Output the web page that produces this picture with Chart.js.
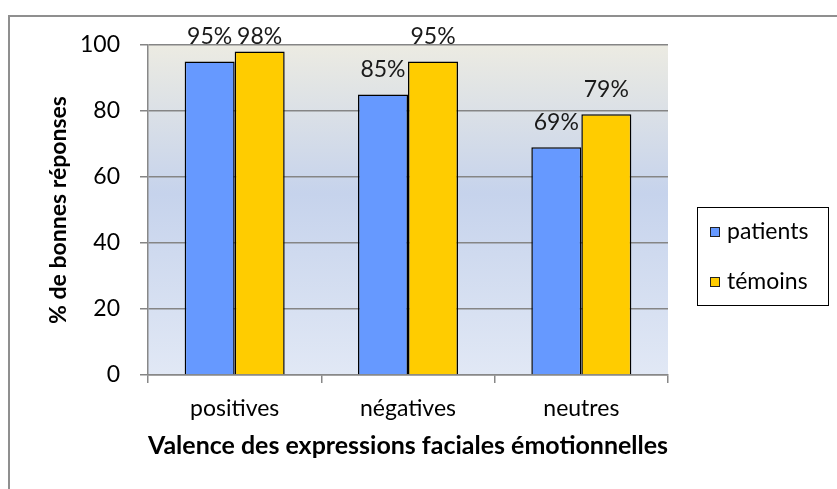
<!DOCTYPE html>
<html>
<head>
<meta charset="utf-8">
<script src="https://cdn.jsdelivr.net/npm/chart.js@4/dist/chart.umd.min.js"></script>
<style>
  body { margin: 0; background: #fff; }
  #wrap { width: 837px; height: 489px; position: relative; }
</style>
</head>
<body>
<div id="wrap"><canvas id="valenceChart"></canvas></div>
<script>
// categories et valeurs
const categories = ["positives", "négatives", "neutres"];
const patients = [95, 85, 69];
const temoins = [98, 95, 79];
const seriesNames = ["patients", "témoins"];
const yTicks = [0, 20, 40, 60, 80, 100];

const FONT = "Lato, 'Noto Sans', sans-serif";

// fond dégradé de la zone de tracé + cadre extérieur
const backgroundPlugin = {
    id: 'background',
    beforeDraw(chart) {
        const ctx = chart.ctx;
        const a = chart.chartArea;
        ctx.save();
        ctx.strokeStyle = '#8f8f8f';
        ctx.lineWidth = 2;
        ctx.strokeRect(9, 16, 840, 500);
        const g = ctx.createLinearGradient(0, a.top, 0, a.bottom);
        g.addColorStop(0, '#ECEBE2');
        g.addColorStop(0.45, '#C6D3EC');
        g.addColorStop(1, '#E1E8F5');
        ctx.fillStyle = g;
        ctx.fillRect(a.left, a.top, a.right - a.left, a.bottom - a.top);
        ctx.restore();
    }
};

// étiquettes de pourcentage au-dessus des barres
const labelsPlugin = {
    id: 'barLabels',
    afterDatasetsDraw(chart) {
        const ctx = chart.ctx;
        ctx.save();
        ctx.font = '23px ' + FONT;
        ctx.fillStyle = '#1a1a1a';
        ctx.textAlign = 'center';
        ctx.textBaseline = 'middle';
        chart.data.datasets.forEach((ds, i) => {
            chart.getDatasetMeta(i).data.forEach((bar, j) => {
                const y = Math.max(bar.y - 25, 37);
                ctx.fillText(ds.data[j] + '%', bar.x, y);
            });
        });
        ctx.restore();
    }
};

// légende encadrée à droite
const legendPlugin = {
    id: 'boxLegend',
    afterDraw(chart) {
        const ctx = chart.ctx;
        ctx.save();
        ctx.strokeStyle = '#000';
        ctx.lineWidth = 1;
        ctx.strokeRect(697.5, 207.5, 131, 98);
        ctx.font = '23px ' + FONT;
        ctx.textBaseline = 'middle';
        ctx.textAlign = 'left';
        chart.data.datasets.forEach((ds, i) => {
            const cy = 232 + i * 50;
            ctx.fillStyle = ds.backgroundColor;
            ctx.fillRect(710, cy - 5, 10, 10);
            ctx.strokeStyle = '#222';
            ctx.strokeRect(710.5, cy - 4.5, 9, 9);
            ctx.fillStyle = '#000';
            ctx.fillText(ds.label, 727, cy);
        });
        ctx.restore();
    }
};

const ctx = document.getElementById('valenceChart').getContext('2d');
const valenceChart = new Chart(ctx, {
    type: 'bar',
    data: {
        labels: categories,
        datasets: [{
            label: seriesNames[0],
            data: patients,
            backgroundColor: '#6699FF',
            borderColor: '#000',
            borderWidth: 1.5,
            borderSkipped: 'bottom',
            categoryPercentage: 0.577,
            barPercentage: 1
        }, {
            label: seriesNames[1],
            data: temoins,
            backgroundColor: '#FFCC00',
            borderColor: '#000',
            borderWidth: 1.5,
            borderSkipped: 'bottom',
            categoryPercentage: 0.577,
            barPercentage: 1
        }]
    },
    options: {
        responsive: true,
        maintainAspectRatio: false,
        animation: false,
        layout: { padding: { left: 0, right: 169, top: 45, bottom: 0 } },
        plugins: {
            legend: { display: false },
            tooltip: { enabled: false }
        },
        scales: {
            x: {
                afterFit(scale) { scale.height = 114; },
                grid: { drawOnChartArea: false, color: '#888', tickLength: 8, lineWidth: 1.5 },
                border: { color: '#888', width: 1.5 },
                ticks: { color: '#000', padding: 12, font: { family: FONT, size: 23 } },
                title: {
                    display: true,
                    text: 'Valence des expressions faciales émotionnelles',
                    color: '#000',
                    font: { family: FONT, size: 25, weight: 'bold' },
                    padding: { top: 0, bottom: 28 }
                }
            },
            y: {
                min: 0,
                max: 100,
                afterFit(scale) { scale.width = 148; },
                afterBuildTicks(scale) { scale.ticks = yTicks.map(v => ({ value: v })); },
                grid: { color: '#858585', lineWidth: 1.5, tickLength: 8 },
                border: { color: '#888', width: 1.5 },
                ticks: { color: '#000', padding: 20, font: { family: FONT, size: 23 } },
                title: {
                    display: true,
                    text: '% de bonnes réponses',
                    color: '#000',
                    font: { family: FONT, size: 23, weight: 'bold' },
                    padding: { top: 45, bottom: 0 }
                }
            }
        }
    },
    plugins: [backgroundPlugin, labelsPlugin, legendPlugin]
});
</script>
</body>
</html>
